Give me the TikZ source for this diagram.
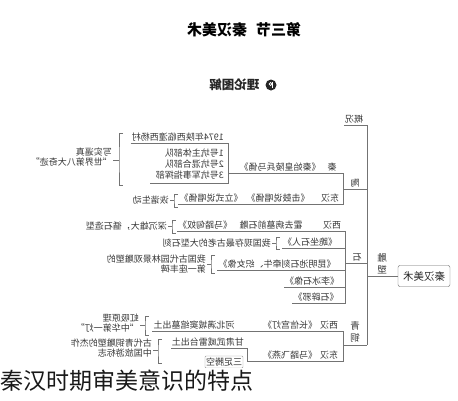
\documentclass[tikz,border=0pt]{standalone}
\usepackage{pgf,tikz}
\usepackage{fontspec}
\setmainfont{Noto Sans CJK SC}

\begin{document}
\begin{tikzpicture}[x=1pt, y=-1pt,
    ln/.style={draw=black!55, line width=.6pt},
    cell/.style={font=\fontsize{9}{10.8}\selectfont, text=black!78, inner xsep=1pt, inner ysep=1.5pt, text height=7.5pt, text depth=1.5pt},
    note/.style={font=\fontsize{9}{10.8}\selectfont, text=black!78, inner sep=1pt, align=left},
    vlab/.style={font=\fontsize{9.5}{12}\selectfont, text=black!78, inner sep=1pt, align=center}]
  \useasboundingbox (0,0) rectangle (458,400);
  \begin{scope}[shift={(458,0)}, xscale=-1, transform shape]
    \node[font=\fontsize{15}{15}\selectfont\bfseries] (title) at (214,30) {第三节\hspace{9pt}秦汉美术};
    \node[circle, fill=black!85, minimum size=11pt, inner sep=0pt] (icon) at (187,85) {};
    \draw[white, line width=1pt] ([xshift=-1.2pt, yshift=-2.6pt]icon.center) -- ([xshift=-1.2pt, yshift=2.6pt]icon.center);
    \draw[white, line width=.8pt] ([xshift=.4pt, yshift=1pt]icon.center) circle (1.5pt);
    \node[font=\fontsize{12.5}{12.5}\selectfont\bfseries, text=black!85, anchor=west] (tulun) at (195,85) {理论图解};

    \node[draw=black!60, rounded corners=2pt, minimum width=52pt, minimum height=21pt, font=\fontsize{10.5}{10.5}\selectfont, text=black!85] (root) at (34,276) {秦汉美术};
    \node[vlab] (diaosu) at (76,264) {雕\\塑};
    \coordinate (spB) at (91,345);
    \draw[ln] (root.east) -- (spB |- root.east);

    \node[cell] (gaikuang) at (104,119) {概况};
    \draw[ln] (gaikuang.south east) -| (spB);

    \node[cell] (tao) at (103,183) {陶};
    \coordinate (taoB) at (115,189);
    \draw[ln] (spB |- taoB) -- (taoB);
    \node[cell] (qin) at (126,167) {秦};
    \node[cell] (qinyong) at (178,167) {《秦始皇陵兵马俑》};
    \coordinate (kengB) at (230,173);
    \draw[ln] (taoB) |- (kengB);
    \node[cell, anchor=west] (nian) at (233,137) {1974年陕西临潼西杨村};
    \coordinate (kengD) at (230,183);
    \coordinate (kengE) at (308,183);
    \draw[ln] (nian.south east) -| (kengD) -- (kengE);
    \node[note, anchor=west] (keng) at (233,164) {1号坑主体部队\\2号坑混合部队\\3号坑军事指挥部};
    \coordinate (qinT) at (335,133);
    \coordinate (qinS) at (339,160);
    \coordinate (qinD) at (335,185);
    \draw[ln] (qinT) -| (qinS) |- (qinD);
    \node[note, anchor=west] (qinres) at (345,157) {写实逼真\\“世界第八大奇迹”};
    \draw[ln] (qinS) -- (qinS -| qinres.west);
    \node[cell] (donghanA) at (128,198) {东汉};
    \node[cell] (jigu) at (180,198) {《击鼓说唱俑》};
    \node[cell] (lishi) at (247,198) {《立式说唱俑》};
    \draw[ln] (taoB) |- (lishi.south east);
    \coordinate (dhT) at (280,194);
    \coordinate (dhS) at (284,200);
    \coordinate (dhD) at (280,207);
    \draw[ln] (dhT) -| (dhS) |- (dhD);
    \node[cell, anchor=west] (huixie) at (288,200) {诙谐生动};
    \draw[ln] (dhS) -- (huixie.west);

    \node[cell] (shi) at (101,257) {石};
    \coordinate (shiB) at (113,263);
    \draw[ln] (spB |- shiB) -- (shiB);
    \node[cell] (xihanA) at (126,225) {西汉};
    \node[cell] (huo) at (187,225) {霍去病墓前石雕};
    \node[cell] (mata) at (253,225) {《马踏匈奴》};
    \draw[ln] (shiB) |- (mata.south east);
    \coordinate (mtT) at (282,220);
    \coordinate (mtS) at (286,226);
    \coordinate (mtD) at (282,233);
    \draw[ln] (mtT) -| (mtS) |- (mtD);
    \node[cell, anchor=west] (shenchen) at (290,226) {深沉雄大，循石造型};
    \draw[ln] (mtS) -- (shenchen.west);
    \node[cell] (shiren) at (148,242) {《跪坐石人》};
    \draw[ln] (shiB) |- (shiren.south east);
    \coordinate (srT) at (178,237);
    \coordinate (srS) at (182,243);
    \coordinate (srD) at (178,249);
    \draw[ln] (srT) -| (srS) |- (srD);
    \node[cell, anchor=west] (zuigu) at (186,243) {我国现存最古老的大型石刻};
    \draw[ln] (srS) -- (zuigu.west);
    \node[cell] (kunming) at (181,264) {《昆明池石刻牵牛、织女像》};
    \draw[ln] (shiB) |- (kunming.south east);
    \coordinate (kmT) at (243,255);
    \coordinate (kmS) at (247,264);
    \coordinate (kmD) at (243,273);
    \draw[ln] (kmT) -| (kmS) |- (kmD);
    \node[note, anchor=west] (yuanlin) at (251,264) {我国古代园林景观雕塑的\\第一座丰碑};
    \draw[ln] (kmS) -- (kmS -| yuanlin.west);
    \node[cell] (libing) at (146,281) {《李冰石像》};
    \draw[ln] (shiB) |- (libing.south east);
    \node[cell] (bixie) at (142,297) {《石辟邪》};
    \draw[ln] (shiB) |- (bixie.south east);

    \node[vlab] (qingtong) at (103,332) {青\\铜};
    \coordinate (qtB) at (115,345);
    \draw[ln] (spB) -- (qtB);
    \node[cell] (xihanB) at (129,325) {西汉};
    \node[cell] (changxin) at (168,325) {《长信宫灯》};
    \node[cell] (mancheng) at (264,325) {河北满城窦绾墓出土};
    \draw[ln] (qtB) |- (mancheng.south east);
    \coordinate (cxT) at (309,316);
    \coordinate (cxS) at (313,325);
    \coordinate (cxD) at (309,335);
    \draw[ln] (cxT) -| (cxS) |- (cxD);
    \node[note, anchor=west] (hongxi) at (318,323) {虹吸原理\\“中华第一灯”};
    \draw[ln] (cxS) -- (cxS -| hongxi.west);
    \node[cell] (donghanB) at (129,355) {东汉};
    \node[cell] (feiyan) at (168,355) {《马踏飞燕》};
    \node[cell, anchor=west] (gansu) at (213,342) {甘肃武威雷台出土};
    \coordinate (fyJ) at (211,361);
    \draw[ln] (qtB) |- (fyJ) |- (gansu.south east);
    \node[cell, draw=black!40, rounded corners=1pt] (tengkong) at (234,362) {三足腾空};
    \coordinate (fyT) at (296,339);
    \coordinate (fyS) at (300,350);
    \coordinate (fyD) at (296,363);
    \draw[ln] (fyT) -| (fyS) |- (fyD);
    \node[note, anchor=west] (gudai) at (305,348) {古代青铜雕塑的杰作\\中国旅游标志};
    \draw[ln] (fyS) -- (fyS -| gudai.west);
  \end{scope}
  \node[font=\fontsize{23}{23}\selectfont, text=black!90, fill=white, anchor=west, inner xsep=0pt, inner ysep=2pt] (caption) at (0,381) {秦汉时期审美意识的特点};
\end{tikzpicture}
\end{document}
